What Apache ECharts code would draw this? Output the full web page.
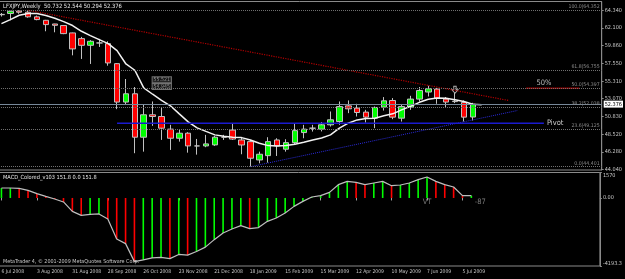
<!DOCTYPE html>
<html>
<head>
<meta charset="UTF-8">
<script src="https://cdn.jsdelivr.net/npm/echarts/dist/echarts.min.js"></script>
<title>LFXJPY Weekly</title>
<style>
    html, body { margin: 0; padding: 0; background: #000; overflow: hidden; }
    /* chart canvas starts 3px left of the page so the first bar sits on the edge */
    #chart { width: 628px; height: 279px; margin-left: -3px; }
</style>
</head>
<body>
<div id="chart"></div>
<script>
// weekly bars, 6 Jul 2008 .. 12 Jul 2009
const opens  = [63.78, 63.93, 64.25, 64.10, 63.51, 63.07, 62.60, 62.40, 61.46, 60.73, 59.88, 60.18, 60.09, 57.54, 52.64, 53.70, 48.16, 51.02,
                50.80, 49.19, 48.03, 48.67, 47.05, 47.05, 47.18, 48.16, 49.07, 47.81, 47.60, 45.26, 45.81, 47.81, 46.63, 47.47, 48.75, 49.31,
                49.19, 49.74, 50.16, 52.16, 51.87, 51.36, 50.59, 52.00, 52.84, 50.59, 52.00, 53.02, 53.92, 54.30, 53.02, 52.75, 52.60, 50.732];
const closes = [63.82, 64.22, 64.10, 63.51, 63.16, 62.52, 62.43, 61.37, 59.42, 59.88, 60.39, 60.18, 57.63, 52.64, 53.70, 48.16, 51.02, 50.80,
                49.31, 48.03, 48.67, 47.05, 47.05, 47.31, 48.16, 48.16, 47.92, 47.17, 45.48, 45.99, 47.60, 47.05, 47.47, 49.00, 49.19, 49.31,
                49.74, 50.38, 52.07, 51.78, 51.31, 50.72, 51.95, 52.80, 50.72, 52.07, 53.02, 54.12, 54.34, 53.15, 52.64, 52.70, 50.72, 52.376];
const lows   = [63.55, 63.07, 63.90, 63.40, 63.07, 61.67, 61.54, 61.30, 58.60, 58.14, 57.50, 59.67, 57.28, 51.74, 52.38, 46.12, 46.32, 49.61,
                47.82, 46.54, 47.60, 46.19, 45.94, 46.89, 47.05, 47.81, 47.81, 45.99, 44.40, 44.83, 44.92, 45.77, 46.32, 47.20, 48.03, 48.88,
                48.90, 49.52, 49.74, 51.23, 50.80, 50.03, 49.31, 51.56, 50.46, 50.16, 51.65, 52.72, 53.35, 52.42, 52.00, 52.51, 50.16, 50.294];
const highs  = [64.00, 64.28, 64.33, 64.35, 63.67, 63.12, 62.62, 62.45, 61.50, 60.95, 60.54, 60.70, 60.39, 57.60, 55.58, 54.56, 52.29, 52.72,
                52.00, 49.74, 49.20, 48.80, 47.94, 48.46, 48.33, 48.46, 49.95, 48.16, 47.81, 46.32, 48.16, 48.03, 47.90, 49.95, 49.74, 49.74,
                50.10, 51.44, 52.72, 52.85, 52.42, 51.65, 52.08, 53.28, 53.15, 52.29, 53.44, 54.56, 54.72, 54.43, 53.28, 53.79, 52.85, 52.544];

// white moving average (one bar longer, shifted)
const maValues = [62.65, 63.16, 63.71, 63.93, 63.93, 63.67, 63.33, 62.90, 62.40, 61.67, 61.12, 60.60, 60.09, 59.20, 57.50, 56.70, 54.45, 53.64,
                  52.87, 52.17, 51.14, 50.12, 49.35, 48.90, 48.46, 48.27, 48.16, 48.11, 47.80, 47.39, 47.09, 47.05, 47.09, 47.27, 47.52, 47.81,
                  48.07, 48.46, 49.31, 49.95, 50.37, 50.54, 50.59, 50.89, 51.14, 51.65, 52.10, 52.61, 53.00, 53.15, 53.13, 52.93, 52.72, 52.36, 52.30];

// MACD_Colored values
const macdValues = [616, 616, 594, 470, 265, 100, -62, -246, -825, -1072, -1010, -986, -1294, -2526, -2815, -3924, -3819, -3696,
                    -3659, -3739, -3480, -3520, -3300, -3030, -2569, -2157, -1910, -1706, -1889, -1827, -1441, -1232, -924, -517, -209, 60,
                    142, 345, 819, 1023, 961, 819, 924, 1023, 758, 800, 924, 1127, 1294, 1023, 819, 678, 142, 142];

const weekTicks = ['6 Jul 2008', '3 Aug 2008', '31 Aug 2008', '28 Sep 2008', '26 Oct 2008', '23 Nov 2008', '21 Dec 2008',
                   '18 Jan 2009', '15 Feb 2009', '15 Mar 2009', '12 Apr 2009', '10 May 2009', '7 Jun 2009', '5 Jul 2009'];
const priceTicks = [64.34, 62.10, 59.86, 57.55, 55.31, 53.07, 50.83, 48.52, 46.28, 44.04];
const macdTicks = [1570, 0, -4193.3];

// fibo levels: [value, label]
const fiboLevels = [[64.352, '100.0|64.352'], [56.755, '61.8|56.755'], [54.397, '50.0|54.397'],
                    [52.038, '38.2|52.038'], [49.125, '23.6|49.125'], [44.401, '0.0|44.401']];
const bidPrice = 52.376;
const downTrend = [[3, 64.35], [57, 52.85]];
const upTrend = [[28, 44.40], [58, 51.56]];
const pivotLine = [[13, 49.95], [61, 49.95]];
const halfLine = [[59, 54.397], [65, 54.397]];
const halfText = [[60.6, 54.397]];
const priceBoxes = [[17, 55.49], [17, 54.63]];
const priceBoxTexts = ['55.521', '54.945'];
const arrowMark = [[51, 54.21]];
const macdNotes = [[48, -260], [54, -230]];
const macdNoteTexts = ['VT', '-87'];

const slotCount = 68;
const slots = [];
for (let i = 0; i < slotCount; i++) slots.push(String(i));

const small = 'Liberation Sans Narrow, DejaVu Sans Condensed, sans-serif';
const txt = '#c8c8c8';

const candleData = opens.map((o, i) => [o, closes[i], lows[i], highs[i]]);
const macdBars = macdValues.map((v, i) => ({
    value: v,
    itemStyle: { color: (i === 0 || v >= macdValues[i - 1]) ? '#00ff00' : '#ff0000' }
}));

const chart = echarts.init(document.getElementById('chart'));

chart.setOption({
    animation: false,
    backgroundColor: '#000',
    title: [
        { text: 'LFXJPY,Weekly  50.732 52.544 50.294 52.376', left: 6, top: 3, padding: 0,
          textStyle: { color: '#e8e8e8', fontSize: 5.8, fontWeight: 'normal', fontFamily: small } },
        { text: 'MACD_Colored_v103 151.8 0.0 151.8', left: 6, top: 175, padding: 0,
          textStyle: { color: '#e8e8e8', fontSize: 5.6, fontWeight: 'normal', fontFamily: small } },
        { text: 'MetaTrader 4, © 2001-2009 MetaQuotes Software Corp.', left: 6, top: 259.5, padding: 0,
          textStyle: { color: '#c8c8c8', fontSize: 5.4, fontWeight: 'normal', fontFamily: small } }
    ],
    grid: [
        { left: 0, right: 23, top: 1.5, height: 168.5, show: true, borderColor: '#8a8a8a', borderWidth: 1 },
        { left: 0, right: 23, top: 172.5, height: 93.5, show: true, borderColor: '#8a8a8a', borderWidth: 1 }
    ],
    xAxis: [
        { gridIndex: 0, type: 'category', data: slots, boundaryGap: true,
          axisLine: { show: false }, axisTick: { show: false }, axisLabel: { show: false } },
        { gridIndex: 1, type: 'category', data: slots, boundaryGap: true,
          axisLine: { show: false },
          axisTick: { show: true, alignWithLabel: true, length: 2.5, lineStyle: { color: '#a0a0a0' },
                      interval: (idx) => idx % 4 === 0 && idx / 4 < weekTicks.length },
          axisLabel: { interval: (idx) => idx % 4 === 0 && idx / 4 < weekTicks.length,
                       formatter: (v, idx) => weekTicks[idx / 4] || '',
                       align: 'left', color: txt, fontSize: 5, fontFamily: small, margin: 3 } }
    ],
    yAxis: [
        { gridIndex: 0, type: 'value', position: 'right', min: 43.98, max: 65.465,
          splitLine: { show: false },
          axisLine: { show: true, lineStyle: { color: '#8a8a8a' } },
          axisTick: { show: true, length: 2, customValues: priceTicks, lineStyle: { color: '#8a8a8a' } },
          axisLabel: { customValues: priceTicks, formatter: (v) => v.toFixed(3),
                       color: txt, fontSize: 5.5, fontFamily: small, margin: 3 } },
        { gridIndex: 1, type: 'value', position: 'right', min: -4193.3, max: 1570,
          splitLine: { show: false },
          axisLine: { show: true, lineStyle: { color: '#8a8a8a' } },
          axisTick: { show: true, length: 2, customValues: macdTicks, lineStyle: { color: '#8a8a8a' } },
          axisLabel: { customValues: macdTicks, hideOverlap: false,
                       formatter: (v) => v === 0 ? '0.00' : (v > 0 ? '{hi|' + v + '}' : '{lo|' + v + '}'),
                       rich: {
                           hi: { color: txt, fontSize: 5.5, fontFamily: small, padding: [7, 0, 0, 0] },
                           lo: { color: txt, fontSize: 5.5, fontFamily: small, padding: [0, 0, 4, 0] }
                       },
                       color: txt, fontSize: 5.5, fontFamily: small, margin: 3 } }
    ],
    series: [
        {
            name: 'LFXJPY',
            type: 'candlestick',
            xAxisIndex: 0, yAxisIndex: 0,
            data: candleData,
            barWidth: 6,
            itemStyle: { color: '#00ff00', color0: '#ff0000', borderColor: '#c0c0c0', borderColor0: '#c0c0c0', borderWidth: 1 },
            markLine: {
                silent: true, symbol: 'none',
                data: fiboLevels.map(f => ({
                    yAxis: f[0],
                    lineStyle: { color: '#707070', type: 'dotted', width: 1 },
                    label: { show: true, position: 'insideEndTop', formatter: f[1], distance: [2, 1],
                             color: '#8a8a8a', fontSize: 5.2, fontFamily: small }
                })).concat([{
                    yAxis: bidPrice,
                    lineStyle: { color: '#778899', type: 'solid', width: 1 },
                    label: { show: true, position: 'end', formatter: bidPrice.toFixed(3), distance: 2,
                             color: '#000', backgroundColor: '#ffffff', padding: [1, 1, 0, 1],
                             fontSize: 5.5, fontFamily: small }
                }])
            }
        },
        {
            name: 'MA', type: 'line', xAxisIndex: 0, yAxisIndex: 0,
            data: maValues, symbol: 'none',
            lineStyle: { color: '#f2f2f2', width: 1.5 }, z: 3
        },
        {
            name: 'Trend down', type: 'line', xAxisIndex: 0, yAxisIndex: 0,
            data: downTrend, symbol: 'none',
            lineStyle: { color: '#b00000', width: 1.2, type: 'dotted' }
        },
        {
            name: 'Trend up', type: 'line', xAxisIndex: 0, yAxisIndex: 0,
            data: upTrend, symbol: 'none',
            lineStyle: { color: '#2a2ad8', width: 1, type: 'dotted' }
        },
        {
            name: 'Pivot', type: 'line', xAxisIndex: 0, yAxisIndex: 0,
            data: pivotLine, symbol: 'none',
            lineStyle: { color: '#1a1ad0', width: 1.5 },
            endLabel: { show: true, formatter: 'Pivot', color: txt, fontSize: 7.5, fontFamily: small, distance: 3 }
        },
        {
            name: '50%', type: 'line', xAxisIndex: 0, yAxisIndex: 0,
            data: halfLine, symbol: 'none',
            lineStyle: { color: '#900000', width: 1.5 }
        },
        {
            name: '50% text', type: 'scatter', xAxisIndex: 0, yAxisIndex: 0,
            data: halfText, symbolSize: 0,
            label: { show: true, formatter: '50%', position: 'top', distance: 1,
                     color: '#e0e0e0', fontSize: 7.5, fontFamily: small }
        },
        {
            name: 'boxes', type: 'scatter', xAxisIndex: 0, yAxisIndex: 0,
            data: priceBoxes, symbolSize: 0,
            label: { show: true, position: 'right', distance: 0,
                     formatter: (p) => priceBoxTexts[p.dataIndex],
                     color: '#b0b0b0', fontSize: 5.2, fontFamily: small,
                     backgroundColor: '#1a1a1a', borderColor: '#8a8a8a', borderWidth: 1, padding: [0, 1] }
        },
        {
            name: 'arrow', type: 'scatter', xAxisIndex: 0, yAxisIndex: 0,
            data: arrowMark, symbol: 'path://M3,0 L7,0 L7,5 L10,5 L5,10 L0,5 L3,5 Z', symbolSize: [6, 7],
            itemStyle: { color: '#000', borderColor: '#e0e0e0', borderWidth: 1 }
        },
        {
            name: 'MACD', type: 'bar', xAxisIndex: 1, yAxisIndex: 1,
            data: macdBars, barWidth: 1.6
        },
        {
            name: 'MACD line', type: 'line', xAxisIndex: 1, yAxisIndex: 1,
            data: macdValues, symbol: 'none',
            lineStyle: { color: '#bdbdbd', width: 1.2 }
        },
        {
            name: 'notes', type: 'scatter', xAxisIndex: 1, yAxisIndex: 1,
            data: macdNotes, symbolSize: 0,
            label: { show: true, position: 'inside', formatter: (p) => macdNoteTexts[p.dataIndex],
                     color: '#9a9a9a', fontSize: 7.5, fontFamily: small }
        }
    ]
});
</script>
</body>
</html>
